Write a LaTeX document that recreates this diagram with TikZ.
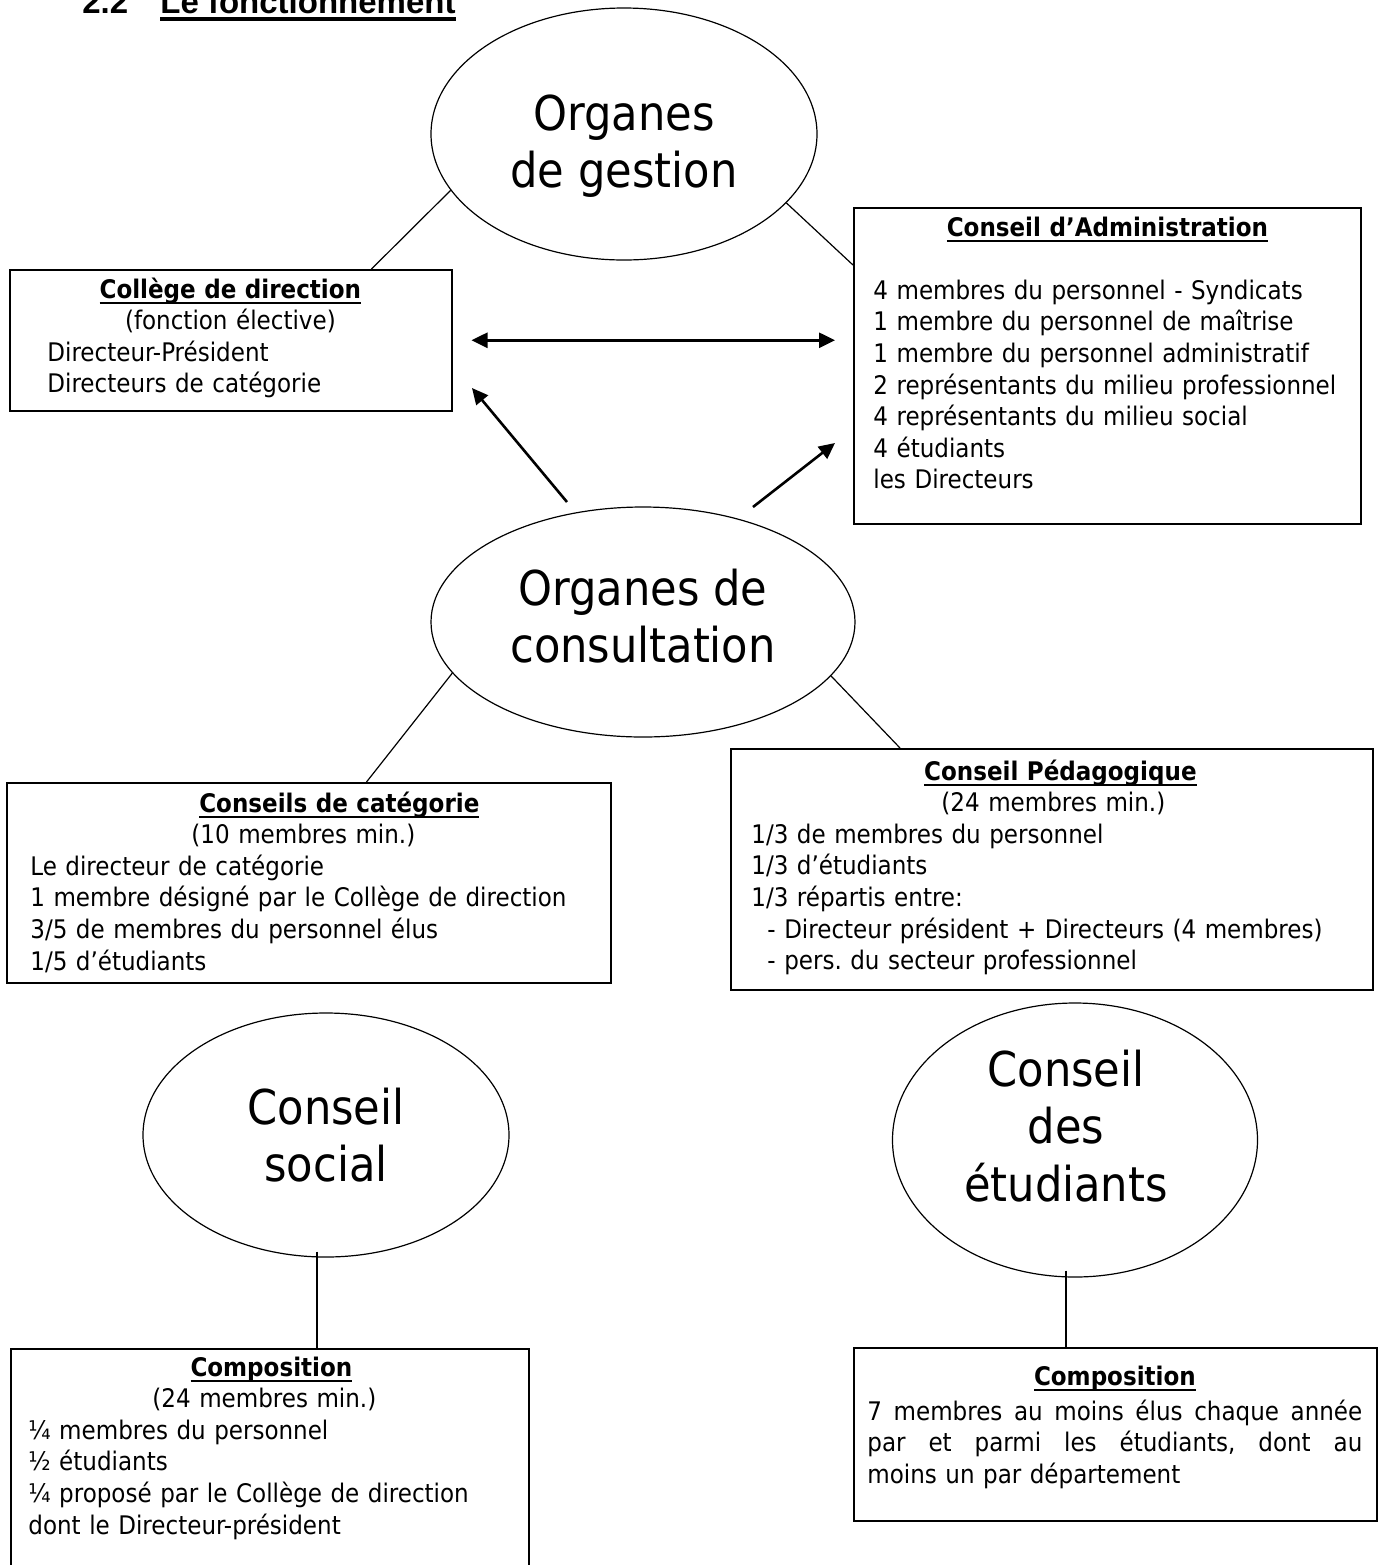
\documentclass[tikz,border=0pt]{standalone}
\usepackage{fontspec}
\usetikzlibrary{shapes.geometric,arrows.meta}
\setmainfont{DejaVu Sans Condensed}
\newfontfamily\arial{Liberation Sans}
\frenchspacing
\newcommand{\petit}{\fontsize{12.8}{15.8}\selectfont}
\newcommand{\grand}{\fontsize{24}{28.75}\selectfont}
% soulignement : texte, profondeur, epaisseur
\newcommand{\souligne}[3]{\leavevmode\setbox0=\hbox{#1}\rlap{\copy0}\rule[-#2]{\wd0}{#3}}
\newcommand{\titreboite}[1]{\makebox[\linewidth]{\souligne{\textbf{#1}}{3pt}{1pt}}}
% ligne justifiee
\newcommand{\justifie}[1]{{\spaceskip=\fontdimen2\font plus 1fil\relax\makebox[\linewidth][s]{#1}}}
\tikzset{pointe/.tip={Triangle[length=8pt,width=7.5pt]}}

\begin{document}
\begin{tikzpicture}[x=0.5pt,y=-0.5pt,
  organe/.style={draw, ellipse, line width=0.6pt, inner sep=0pt},
  bulle/.style={font=\grand, align=center, inner sep=0pt},
  boite/.style={draw, line width=0.75pt, anchor=north west, inner sep=0pt},
  liste/.style={font=\petit, anchor=base west, align=left, inner sep=0pt},
  lien/.style={line width=0.6pt},
  fleche/.style={line width=1.3pt, -pointe}]
\useasboundingbox (0,0) rectangle (1381,1565);
\clip (0,0) rectangle (1381,1565);

% Titre de la section
\node[anchor=base west, inner sep=0pt, font=\arial\bfseries\fontsize{16.5}{20}\selectfont] (num) at (82,13) {2.2};
\node[anchor=base west, inner sep=0pt, font=\arial\bfseries\fontsize{16.5}{20}\selectfont] (section) at (160,13)
  {\souligne{Le fonctionnement}{4pt}{2pt}};

% Organes de gestion
\node[organe, minimum width=193pt, minimum height=126pt] (og) at (624,134) {};
\node[bulle] (og-txt) at (624,146) {Organes\\de gestion};

% Collège de direction
\node[boite, minimum width=221pt, minimum height=70.5pt] (college) at (9,269) {};
\node[liste, text width=183pt] (college-txt) at (47,298) {\titreboite{Collège de direction}\\
  \makebox[\linewidth]{(fonction élective)}\\
  Directeur-Président\\
  Directeurs de catégorie};

% Conseil d'Administration
\node[boite, minimum width=253.5pt, minimum height=158pt] (admin) at (853,207) {};
\node[liste, text width=234pt] (admin-txt) at (873,236) {\titreboite{Conseil d’Administration}\\[15.8pt]
  4 membres du personnel - Syndicats\\
  1 membre du personnel de maîtrise\\
  1 membre du personnel administratif\\
  2 représentants du milieu professionnel\\
  4 représentants du milieu social\\
  4 étudiants\\
  les Directeurs};

\draw[lien] (og.198) -- ([xshift=-40.5pt]college.north east);
\draw[lien] (og.-23) -- ([yshift=-29pt]admin.north west);
\draw[line width=1.3pt, pointe-pointe, shorten <=9.5pt, shorten >=9pt] (college.east) -- (college.east -| admin.west);

% Organes de consultation
\node[organe, minimum width=212pt, minimum height=115pt] (oc) at (643,622) {};
\node[bulle] (oc-txt) at (643,616) {Organes de\\consultation};

\coordinate (f1a) at (567,502);
\coordinate (f1b) at (472,388);
\coordinate (f2a) at (753,507);
\coordinate (f2b) at (835,443);
\draw[fleche] (f1a) -- (f1b);
\draw[fleche] (f2a) -- (f2b);

% Conseils de catégorie
\node[boite, minimum width=302pt, minimum height=100pt] (cat) at (6,782) {};
\node[liste, text width=309pt] (cat-txt) at (30,812) {\titreboite{Conseils de catégorie}\\
  \makebox[\linewidth]{(10 membres min.)\hspace{36pt}}\\
  Le directeur de catégorie\\
  1 membre désigné par le Collège de direction\\
  3/5 de membres du personnel élus\\
  1/5 d’étudiants};

% Conseil Pédagogique
\node[boite, minimum width=321pt, minimum height=120.5pt] (peda) at (730,748) {};
\node[liste, text width=309pt] (peda-txt) at (751,780) {\titreboite{Conseil Pédagogique}\\
  \makebox[\linewidth]{(24 membres min.)\hspace{7pt}}\\
  1/3 de membres du personnel\\
  1/3 d’étudiants\\
  1/3 répartis entre:\\
  \hspace*{8pt}- Directeur président + Directeurs (4 membres)\\
  \hspace*{8pt}- pers. du secteur professionnel};

\draw[lien] (oc.195) -- ([xshift=-122.5pt]cat.north east);
\draw[lien] (oc.-16) -- ([xshift=85pt]peda.north west);

% Conseil social
\node[organe, minimum width=183pt, minimum height=122pt] (cs) at (326,1135) {};
\node[bulle] (cs-txt) at (326,1135) {Conseil\\social};
\node[boite, minimum width=259pt, minimum height=112pt] (comp1) at (10,1348) {};
\node[liste, text width=243pt] (comp1-txt) at (28,1376) {\titreboite{Composition}\\
  \makebox[\linewidth]{(24 membres min.)\hspace{7pt}}\\
  ¼ membres du personnel\\
  ½ étudiants\\
  ¼ proposé par le Collège de direction\\
  dont le Directeur-président};
\draw[lien] ([xshift=-4.5pt,yshift=3pt]cs.south) -- ([xshift=-4.5pt]cs.south |- comp1.north);

% Conseil des étudiants
\node[organe, minimum width=182.5pt, minimum height=137pt] (ce) at (1075,1140) {};
\node[bulle] (ce-txt) at (1066,1126) {Conseil\\des\\étudiants};
\node[boite, minimum width=261.5pt, minimum height=86.5pt] (comp2) at (853,1347) {};
\node[liste, text width=247.5pt] (comp2-txt) at (867,1385) {\titreboite{Composition}\\[1.7pt]
  \justifie{7 membres au moins élus chaque année}\\
  \justifie{par et parmi les étudiants, dont au}\\
  moins un par département};
\draw[lien] ([xshift=-4.5pt,yshift=3.5pt]ce.south) -- ([xshift=-4.5pt]ce.south |- comp2.north);
\end{tikzpicture}
\end{document}
